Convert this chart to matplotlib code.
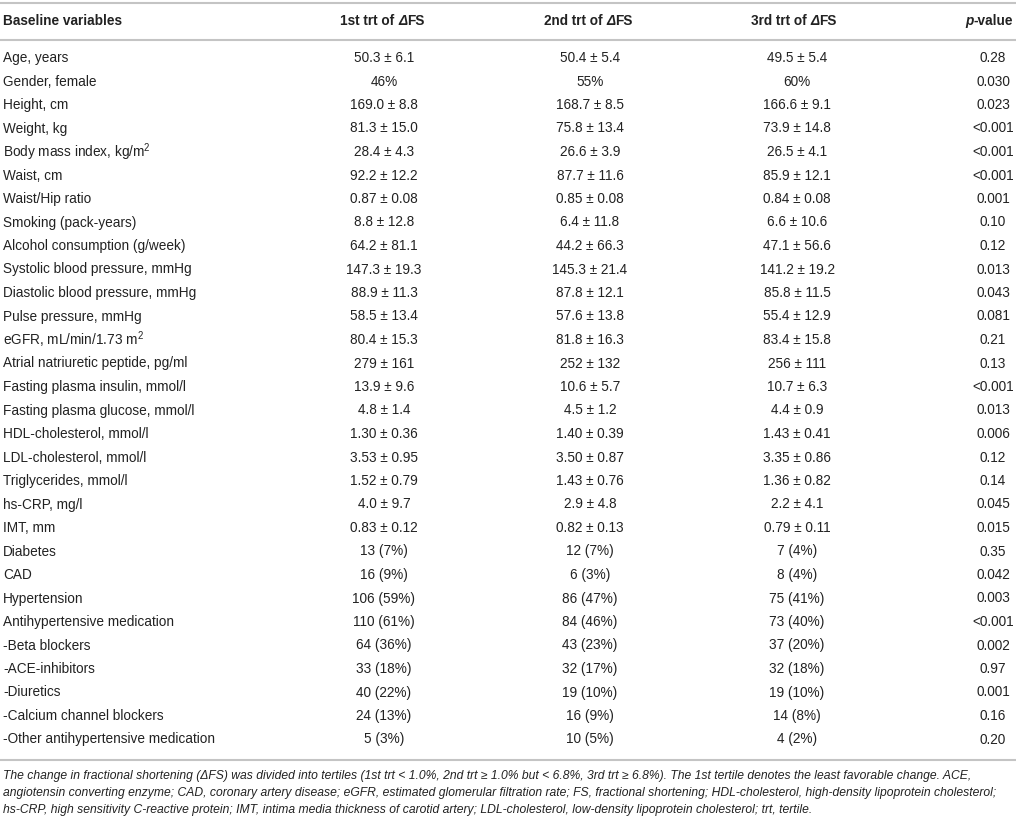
import matplotlib.pyplot as plt

plt.rcParams['font.family'] = ['Liberation Sans', 'DejaVu Sans']
plt.rcParams['mathtext.fontset'] = 'custom'
plt.rcParams['mathtext.rm'] = 'Liberation Sans'
plt.rcParams['mathtext.it'] = 'Liberation Sans:italic'
plt.rcParams['mathtext.bf'] = 'Liberation Sans:bold'

headers = ['Baseline variables', '1st trt of ', '2nd trt of ', '3rd trt of ', 'p-value']

variables = ['Age, years', 'Gender, female', 'Height, cm', 'Weight, kg',
             'Body mass index, kg/m$^2$', 'Waist, cm', 'Waist/Hip ratio',
             'Smoking (pack-years)', 'Alcohol consumption (g/week)',
             'Systolic blood pressure, mmHg', 'Diastolic blood pressure, mmHg',
             'Pulse pressure, mmHg', 'eGFR, mL/min/1.73 m$^2$',
             'Atrial natriuretic peptide, pg/ml', 'Fasting plasma insulin, mmol/l',
             'Fasting plasma glucose, mmol/l', 'HDL-cholesterol, mmol/l',
             'LDL-cholesterol, mmol/l', 'Triglycerides, mmol/l', 'hs-CRP, mg/l',
             'IMT, mm', 'Diabetes', 'CAD', 'Hypertension',
             'Antihypertensive medication', '-Beta blockers', '-ACE-inhibitors',
             '-Diuretics', '-Calcium channel blockers',
             '-Other antihypertensive medication']

trt1 = ['50.3 ± 6.1', '46%', '169.0 ± 8.8', '81.3 ± 15.0', '28.4 ± 4.3',
        '92.2 ± 12.2', '0.87 ± 0.08', '8.8 ± 12.8', '64.2 ± 81.1',
        '147.3 ± 19.3', '88.9 ± 11.3', '58.5 ± 13.4', '80.4 ± 15.3',
        '279 ± 161', '13.9 ± 9.6', '4.8 ± 1.4', '1.30 ± 0.36', '3.53 ± 0.95',
        '1.52 ± 0.79', '4.0 ± 9.7', '0.83 ± 0.12', '13 (7%)', '16 (9%)',
        '106 (59%)', '110 (61%)', '64 (36%)', '33 (18%)', '40 (22%)',
        '24 (13%)', '5 (3%)']

trt2 = ['50.4 ± 5.4', '55%', '168.7 ± 8.5', '75.8 ± 13.4', '26.6 ± 3.9',
        '87.7 ± 11.6', '0.85 ± 0.08', '6.4 ± 11.8', '44.2 ± 66.3',
        '145.3 ± 21.4', '87.8 ± 12.1', '57.6 ± 13.8', '81.8 ± 16.3',
        '252 ± 132', '10.6 ± 5.7', '4.5 ± 1.2', '1.40 ± 0.39', '3.50 ± 0.87',
        '1.43 ± 0.76', '2.9 ± 4.8', '0.82 ± 0.13', '12 (7%)', '6 (3%)',
        '86 (47%)', '84 (46%)', '43 (23%)', '32 (17%)', '19 (10%)',
        '16 (9%)', '10 (5%)']

trt3 = ['49.5 ± 5.4', '60%', '166.6 ± 9.1', '73.9 ± 14.8', '26.5 ± 4.1',
        '85.9 ± 12.1', '0.84 ± 0.08', '6.6 ± 10.6', '47.1 ± 56.6',
        '141.2 ± 19.2', '85.8 ± 11.5', '55.4 ± 12.9', '83.4 ± 15.8',
        '256 ± 111', '10.7 ± 6.3', '4.4 ± 0.9', '1.43 ± 0.41', '3.35 ± 0.86',
        '1.36 ± 0.82', '2.2 ± 4.1', '0.79 ± 0.11', '7 (4%)', '8 (4%)',
        '75 (41%)', '73 (40%)', '37 (20%)', '32 (18%)', '19 (10%)',
        '14 (8%)', '4 (2%)']

p_values = ['0.28', '0.030', '0.023', '<0.001', '<0.001', '<0.001', '0.001',
            '0.10', '0.12', '0.013', '0.043', '0.081', '0.21', '0.13', '<0.001',
            '0.013', '0.006', '0.12', '0.14', '0.045', '0.015', '0.35', '0.042',
            '0.003', '<0.001', '0.002', '0.97', '0.001', '0.16', '0.20']

footnote = [
    'The change in fractional shortening (ΔFS) was divided into tertiles (1st trt < 1.0%, '
    '2nd trt ≥ 1.0% but < 6.8%, 3rd trt ≥ 6.8%). The 1st tertile denotes the least favorable change. ACE,',
    'angiotensin converting enzyme; CAD, coronary artery disease; eGFR, estimated glomerular '
    'filtration rate; FS, fractional shortening; HDL-cholesterol, high-density lipoprotein cholesterol;',
    'hs-CRP, high sensitivity C-reactive protein; IMT, intima media thickness of carotid artery; '
    'LDL-cholesterol, low-density lipoprotein cholesterol; trt, tertile.',
]

txt = '#222222'
rule = '#c4c4c4'
fs = 9.8

fig = plt.figure(figsize=(10.16, 8.19), dpi=100)
ax = fig.add_axes([0, 0, 1, 1])
ax.set_xlim(0, 1016)
ax.set_ylim(819, 0)
ax.axis('off')

col_x = [3, 384, 590, 797, 993]
header_y = 21
row_y0 = 58
row_h = 23.5

for y in (3, 40, 760):
    ax.plot([0, 1016], [y, y], color=rule, lw=1.5, solid_capstyle='butt')

# header
ax.text(col_x[0], header_y, headers[0], ha='left', va='center',
        fontsize=fs, weight='bold', color=txt)
for x, h in zip(col_x[1:4], headers[1:4]):
    half = 44 if h.startswith('1st') else 46
    t = ax.text(x - half, header_y, h, ha='left', va='center',
                fontsize=fs, weight='bold', color=txt)
    d = ax.annotate('Δ', xy=(1, 0), xycoords=t, ha='left', va='bottom',
                    fontsize=fs, weight='bold', style='italic', color=txt)
    ax.annotate('FS', xy=(1, 0), xycoords=d, ha='left', va='bottom',
                fontsize=fs, weight='bold', color=txt)
t = ax.text(1013, header_y, '-value', ha='right', va='center',
            fontsize=fs, weight='bold', color=txt)
ax.annotate('p', xy=(0, 0), xycoords=t, ha='right', va='bottom',
            fontsize=fs, weight='bold', style='italic', color=txt)

# body
for i in range(len(variables)):
    y = row_y0 + i * row_h
    ax.text(col_x[0], y, variables[i], ha='left', va='center', fontsize=fs, color=txt)
    ax.text(col_x[1], y, trt1[i], ha='center', va='center', fontsize=fs, color=txt)
    ax.text(col_x[2], y, trt2[i], ha='center', va='center', fontsize=fs, color=txt)
    ax.text(col_x[3], y, trt3[i], ha='center', va='center', fontsize=fs, color=txt)
    ax.text(col_x[4], y, p_values[i], ha='center', va='center', fontsize=fs, color=txt)

for j, line in enumerate(footnote):
    ax.text(3, 776 + j * 17, line, ha='left', va='center', fontsize=8.75,
            style='italic', color=txt)

fig.savefig('out.png', dpi=100)
